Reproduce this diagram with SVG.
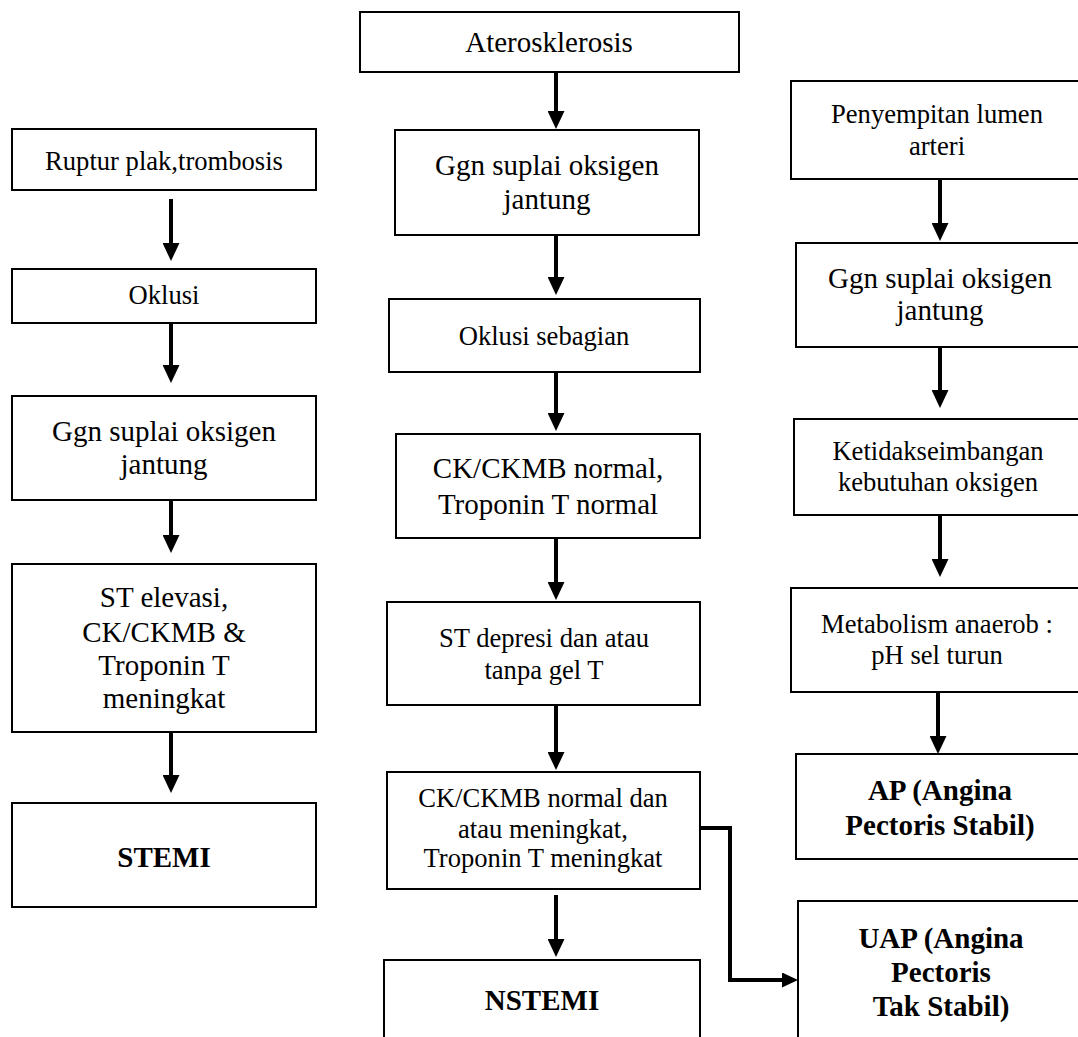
<svg xmlns="http://www.w3.org/2000/svg" width="1078" height="1037" viewBox="0 0 1078 1037">
<style>
.box{fill:#fff;stroke:#000;stroke-width:2}
.t{font-family:"Liberation Serif","Times New Roman",serif;fill:#000;text-anchor:middle}
.s{font-size:26.6px}
.m{font-size:29px}
.b{font-size:29px;font-weight:bold}
.arr{stroke:#000;stroke-width:4;fill:none;marker-end:url(#ah)}
.elb{stroke:#000;stroke-width:4;fill:none;marker-end:url(#ah2)}
</style>
<defs>
<marker id="ah" markerUnits="userSpaceOnUse" markerWidth="18" markerHeight="17" refX="8" refY="8.5" orient="auto">
<path d="M0,0 L18,8.5 L0,17 Z" fill="#000"/>
</marker>
<marker id="ah2" markerUnits="userSpaceOnUse" markerWidth="16" markerHeight="15" refX="6" refY="7.5" orient="auto">
<path d="M0,0 L16,7.5 L0,15 Z" fill="#000"/>
</marker>
</defs>
<rect width="1078" height="1037" fill="#fff"/>

<g id="connectors">
<line class="arr" x1="171" y1="199" x2="171" y2="251"/>
<line class="arr" x1="171" y1="323" x2="171" y2="373"/>
<line class="arr" x1="171" y1="500" x2="171" y2="543"/>
<line class="arr" x1="171" y1="732" x2="171" y2="783"/>
<line class="arr" x1="556" y1="72" x2="556" y2="119"/>
<line class="arr" x1="556" y1="235" x2="556" y2="285"/>
<line class="arr" x1="556" y1="372" x2="556" y2="421"/>
<line class="arr" x1="556" y1="538" x2="556" y2="590"/>
<line class="arr" x1="556" y1="705" x2="556" y2="760"/>
<line class="arr" x1="556" y1="895" x2="556" y2="947"/>
<line class="arr" x1="940" y1="179" x2="940" y2="231"/>
<line class="arr" x1="940" y1="347" x2="940" y2="398"/>
<line class="arr" x1="940" y1="515" x2="940" y2="567"/>
<line class="arr" x1="938" y1="692" x2="938" y2="744"/>
<polyline class="elb" points="700,828 730,828 730,980 788,980"/>
</g>

<g id="n-ruptur">
<rect class="box" x="12" y="129" width="304" height="61"/>
<text class="t s" x="164" y="170">Ruptur plak,trombosis</text>
</g>
<g id="n-oklusi">
<rect class="box" x="12" y="269" width="304" height="54"/>
<text class="t s" x="164" y="304">Oklusi</text>
</g>
<g id="n-ggn-left">
<rect class="box" x="12" y="396" width="304" height="104"/>
<text class="t m" x="164" y="441">Ggn suplai oksigen</text>
<text class="t m" x="164" y="474">jantung</text>
</g>
<g id="n-st-elevasi">
<rect class="box" x="12" y="564" width="304" height="168"/>
<text class="t m" x="164" y="607">ST elevasi,</text>
<text class="t m" x="164" y="642">CK/CKMB &amp;</text>
<text class="t m" x="164" y="675">Troponin T</text>
<text class="t m" x="164" y="708">meningkat</text>
</g>
<g id="n-stemi">
<rect class="box" x="12" y="803" width="304" height="104"/>
<text class="t b" x="164" y="867">STEMI</text>
</g>

<g id="n-aterosklerosis">
<rect class="box" x="360" y="12" width="379" height="60"/>
<text class="t m" x="549" y="52">Aterosklerosis</text>
</g>
<g id="n-ggn-mid">
<rect class="box" x="395" y="130" width="304" height="105"/>
<text class="t m" x="547" y="175">Ggn suplai oksigen</text>
<text class="t m" x="547" y="209">jantung</text>
</g>
<g id="n-oklusi-sebagian">
<rect class="box" x="389" y="299" width="311" height="73"/>
<text class="t s" x="544" y="345">Oklusi sebagian</text>
</g>
<g id="n-ck-normal">
<rect class="box" x="396" y="434" width="304" height="104"/>
<text class="t m" x="548" y="478">CK/CKMB normal,</text>
<text class="t m" x="548" y="514">Troponin T normal</text>
</g>
<g id="n-st-depresi">
<rect class="box" x="387" y="602" width="313" height="103"/>
<text class="t s" x="544" y="647">ST depresi dan atau</text>
<text class="t s" x="544" y="679">tanpa gel T</text>
</g>
<g id="n-ck-meningkat">
<rect class="box" x="387" y="772" width="313" height="117"/>
<text class="t s" x="543" y="807">CK/CKMB normal dan</text>
<text class="t s" x="543" y="838">atau meningkat,</text>
<text class="t s" x="543" y="867">Troponin T meningkat</text>
</g>
<g id="n-nstemi">
<rect class="box" x="384" y="960" width="316" height="110"/>
<text class="t b" x="542" y="1010">NSTEMI</text>
</g>

<g id="n-penyempitan">
<rect class="box" x="791" y="81" width="310" height="98"/>
<text class="t s" x="937" y="123">Penyempitan lumen</text>
<text class="t s" x="937" y="155">arteri</text>
</g>
<g id="n-ggn-right">
<rect class="box" x="796" y="243" width="305" height="104"/>
<text class="t m" x="940" y="288">Ggn suplai oksigen</text>
<text class="t m" x="940" y="320">jantung</text>
</g>
<g id="n-ketidakseimbangan">
<rect class="box" x="794" y="419" width="307" height="96"/>
<text class="t s" x="938" y="460">Ketidakseimbangan</text>
<text class="t s" x="938" y="491">kebutuhan oksigen</text>
</g>
<g id="n-metabolism">
<rect class="box" x="791" y="588" width="310" height="104"/>
<text class="t s" x="937" y="633">Metabolism anaerob :</text>
<text class="t s" x="937" y="664">pH sel turun</text>
</g>
<g id="n-ap">
<rect class="box" x="796" y="754" width="305" height="105"/>
<text class="t b" x="940" y="800">AP (Angina</text>
<text class="t b" x="940" y="835">Pectoris Stabil)</text>
</g>
<g id="n-uap">
<rect class="box" x="798" y="901" width="303" height="170"/>
<text class="t b" x="941" y="948">UAP (Angina</text>
<text class="t b" x="941" y="982">Pectoris</text>
<text class="t b" x="941" y="1016">Tak Stabil)</text>
</g>
</svg>
